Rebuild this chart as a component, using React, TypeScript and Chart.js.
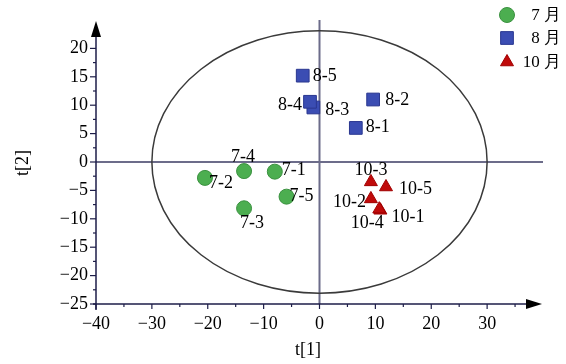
import React, { useEffect, useRef } from 'react';
import { Chart, registerables } from 'chart.js';

Chart.register(...registerables);

// ---- data ----
const SERIES_LABELS = ['7 月', '8 月', '10 月'];

const NAMES_7 = ['7-1', '7-2', '7-3', '7-4', '7-5'];
const X_7 = [-8.0, -20.5, -13.5, -13.5, -5.9];
const Y_7 = [-1.7, -2.8, -8.15, -1.6, -6.1];

const NAMES_8 = ['8-1', '8-2', '8-3', '8-4', '8-5'];
const X_8 = [6.5, 9.6, -1.1, -1.7, -3.0];
const Y_8 = [6.0, 11.0, 9.6, 10.6, 15.2];

const NAMES_10 = ['10-1', '10-2', '10-3', '10-4', '10-5'];
const X_10 = [10.9, 9.2, 9.2, 10.7, 11.9];
const Y_10 = [-8.5, -6.5, -3.5, -8.3, -4.4];

const X_MIN = -40, X_MAX = 40, X_STEP = 10, X_MINOR = 5;
const Y_MIN = -25, Y_MAX = 25, Y_STEP = 5, Y_MINOR = 2.5;
const ELLIPSE_RX = 30;
const ELLIPSE_RY = 23.1;
const X_TITLE = 't[1]';
const Y_TITLE = 't[2]';

// ---- label placement (style) : [align, dx, dy] in px relative to the point ----
const LABEL_PLACE: Record<string, [CanvasTextAlign, number, number]> = {
  '7-1': ['left', 7, -1],
  '7-2': ['left', 4, 5],
  '7-3': ['center', 8, 15],
  '7-4': ['center', -1, -14],
  '7-5': ['left', 3, 0],
  '8-1': ['left', 10, -1],
  '8-2': ['left', 12, 1],
  '8-3': ['left', 12, 3],
  '8-4': ['right', -8, 3],
  '8-5': ['left', 10, 1],
  '10-1': ['left', 11, 7],
  '10-2': ['right', -5, 3],
  '10-3': ['center', 0, -12],
  '10-4': ['center', -12, 14],
  '10-5': ['left', 13, 2],
};

const FONT = '"Liberation Serif", "Times New Roman", serif';
const FONT_SIZE = 18;

function toPoints(xs: number[], ys: number[]) {
  return xs.map((v, i) => ({ x: v, y: ys[i] }));
}

function drawMarker(ctx: CanvasRenderingContext2D, style: string, x: number, y: number, r: number, fill: string, stroke: string) {
  ctx.beginPath();
  if (style === 'circle') {
    ctx.arc(x, y, r, 0, Math.PI * 2);
  } else if (style === 'rect') {
    const s = Math.SQRT1_2 * r;
    ctx.rect(x - s, y - s, 2 * s, 2 * s);
  } else {
    const w = r * Math.sin(Math.PI / 3);
    ctx.moveTo(x, y - r);
    ctx.lineTo(x + w, y + r / 2);
    ctx.lineTo(x - w, y + r / 2);
    ctx.closePath();
  }
  ctx.fillStyle = fill;
  ctx.fill();
  ctx.strokeStyle = stroke;
  ctx.lineWidth = 1;
  ctx.stroke();
}

const overlayPlugin = {
  id: 'overlay',
  beforeDatasetsDraw(chart: any) {
    const { ctx, chartArea: a, scales } = chart;
    const xs = scales.x, ys = scales.y;
    const x0 = xs.getPixelForValue(0);
    const y0 = ys.getPixelForValue(0);
    ctx.save();
    const line = (x1: number, y1: number, x2: number, y2: number) => {
      ctx.beginPath();
      ctx.moveTo(x1, y1);
      ctx.lineTo(x2, y2);
      ctx.stroke();
    };
    // zero lines
    ctx.strokeStyle = '#6c6c8a';
    ctx.lineWidth = 2;
    line(a.left, y0, a.right, y0);
    line(x0, a.top, x0, a.bottom);
    // ellipse
    ctx.strokeStyle = '#3a3a3a';
    ctx.lineWidth = 1.5;
    ctx.beginPath();
    ctx.ellipse(
      x0, y0,
      Math.abs(xs.getPixelForValue(ELLIPSE_RX) - x0),
      Math.abs(ys.getPixelForValue(ELLIPSE_RY) - y0),
      0, 0, Math.PI * 2
    );
    ctx.stroke();
    // axes
    ctx.strokeStyle = '#1d1d48';
    ctx.lineWidth = 1.5;
    line(a.left, a.top + 4, a.left, a.bottom + 6);
    line(a.left - 3, a.bottom, a.right - 6, a.bottom);
    ctx.lineWidth = 1.2;
    // x ticks
    for (let v = X_MIN; v < X_MAX - 0.001; v += X_MINOR) {
      const px = xs.getPixelForValue(v);
      const major = Math.abs(v % X_STEP) < 1e-6;
      line(px, a.bottom, px, a.bottom + (major ? 5 : 3));
    }
    // y ticks
    for (let v = Y_MIN; v < Y_MAX - 5 + 0.001; v += Y_MINOR) {
      const py = ys.getPixelForValue(v);
      const major = Math.abs(v % Y_STEP) < 1e-6;
      line(a.left - (major ? 6 : 3), py, a.left, py);
    }
    // arrows
    ctx.fillStyle = '#000000';
    ctx.beginPath();
    ctx.moveTo(a.left, a.top + 1);
    ctx.lineTo(a.left - 5, a.top + 17);
    ctx.lineTo(a.left + 5, a.top + 17);
    ctx.closePath();
    ctx.fill();
    ctx.beginPath();
    ctx.moveTo(a.right - 1, a.bottom);
    ctx.lineTo(a.right - 17, a.bottom - 5);
    ctx.lineTo(a.right - 17, a.bottom + 5);
    ctx.closePath();
    ctx.fill();
    ctx.restore();
  },
  afterDatasetsDraw(chart: any) {
    const { ctx, chartArea: a } = chart;
    ctx.save();
    ctx.font = `${FONT_SIZE}px ${FONT}`;
    ctx.fillStyle = '#000';
    ctx.textBaseline = 'middle';
    // point labels
    chart.data.datasets.forEach((ds: any, di: number) => {
      const meta = chart.getDatasetMeta(di);
      meta.data.forEach((el: any, i: number) => {
        const name = ds.names[i];
        const [align, dx, dy] = LABEL_PLACE[name] || ['left', 8, 0];
        ctx.textAlign = align;
        ctx.fillText(name, el.x + dx, el.y + dy);
      });
    });
    // legend
    const legendY = [15, 38, 62];
    ctx.font = `17px ${FONT}`;
    chart.data.datasets.forEach((ds: any, di: number) => {
      const ly = legendY[di];
      drawMarker(ctx, ds.pointStyle, 507, ly, ds.pointRadius, ds.backgroundColor, ds.borderColor);
      ctx.fillStyle = '#000';
      ctx.textAlign = 'right';
      ctx.fillText(ds.label, 561, ly + 1);
    });
    // axis titles
    ctx.font = `${FONT_SIZE}px ${FONT}`;
    ctx.textAlign = 'center';
    ctx.fillText(X_TITLE, 308, 350);
    ctx.save();
    ctx.translate(23, (a.top + a.bottom) / 2 + 1);
    ctx.rotate(-Math.PI / 2);
    ctx.fillText(Y_TITLE, 0, 0);
    ctx.restore();
    ctx.restore();
  },
};

const fmt = (max: number) => (v: any) => {
  const n = Number(v);
  if (n >= max) return '';
  return n < 0 ? '\u2212' + Math.abs(n) : String(n);
};

export default function App() {
  const ref = useRef<HTMLCanvasElement>(null);
  useEffect(() => {
    if (!ref.current) return;
    const chart = new Chart(ref.current, {
      type: 'scatter',
      data: {
        datasets: [
          {
            label: SERIES_LABELS[0],
            names: NAMES_7,
            data: toPoints(X_7, Y_7),
            pointStyle: 'circle',
            pointRadius: 7.5,
            backgroundColor: '#4cae50',
            borderColor: '#3b9140',
            borderWidth: 1,
          },
          {
            label: SERIES_LABELS[1],
            names: NAMES_8,
            data: toPoints(X_8, Y_8),
            pointStyle: 'rect',
            pointRadius: 9,
            backgroundColor: '#3b4db3',
            borderColor: '#2a3790',
            borderWidth: 1,
          },
          {
            label: SERIES_LABELS[2],
            names: NAMES_10,
            data: toPoints(X_10, Y_10),
            pointStyle: 'triangle',
            pointRadius: 7.5,
            backgroundColor: '#c00a0a',
            borderColor: '#a00000',
            borderWidth: 1,
          },
        ] as any,
      },
      options: {
        animation: false,
        responsive: false,
        layout: { padding: { left: 0, top: 20, right: 23, bottom: 0 } },
        plugins: {
          legend: { display: false },
          tooltip: { enabled: false },
        },
        scales: {
          x: {
            type: 'linear',
            min: X_MIN,
            max: X_MAX,
            grid: { display: false, drawTicks: false },
            border: { display: false },
            ticks: {
              stepSize: X_STEP,
              autoSkip: false,
              maxRotation: 0,
              padding: 9,
              color: '#000',
              font: { family: FONT, size: FONT_SIZE },
              callback: fmt(X_MAX),
            },
            afterFit: (s: any) => { s.height = 60; },
          },
          y: {
            type: 'linear',
            min: Y_MIN,
            max: Y_MAX,
            grid: { display: false, drawTicks: false },
            border: { display: false },
            ticks: {
              stepSize: Y_STEP,
              autoSkip: false,
              padding: 8,
              color: '#000',
              font: { family: FONT, size: FONT_SIZE },
              callback: fmt(Y_MAX),
            },
            afterFit: (s: any) => { s.width = 96; },
          },
        },
      } as any,
      plugins: [overlayPlugin],
    });
    return () => chart.destroy();
  }, []);
  return (
    <div style={{ position: 'fixed', left: 0, top: 0, width: 566, height: 364, background: '#fff' }}>
      <canvas ref={ref} width={566} height={364} style={{ display: 'block' }} />
    </div>
  );
}
